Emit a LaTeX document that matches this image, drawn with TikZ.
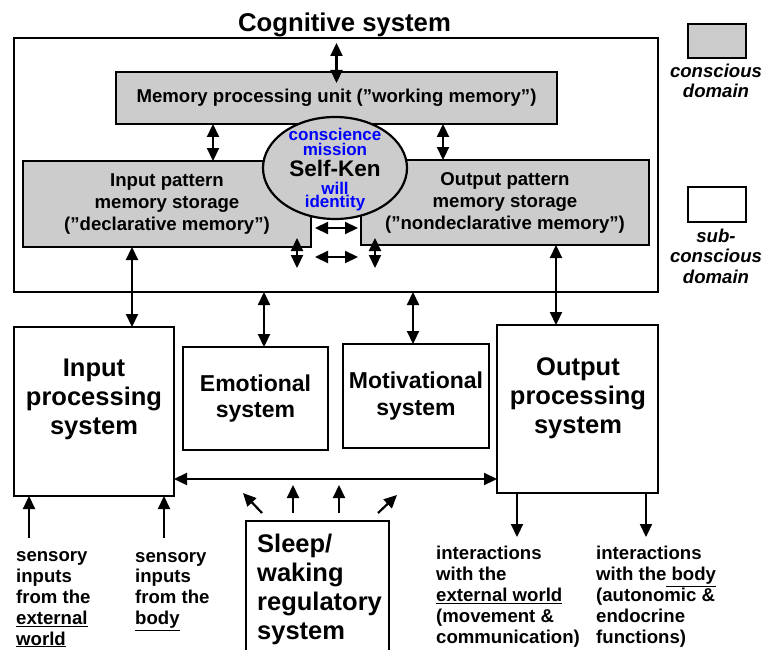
\documentclass[tikz,border=0pt]{standalone}
\usepackage{fontspec}
\setmainfont{Liberation Sans}
\usetikzlibrary{positioning, arrows.meta, calc, shapes.geometric}
\definecolor{consgray}{RGB}{204,204,204}
\tikzset{
	>={Triangle[length=13pt, width=12pt]},
	sysbox/.style={draw, line width=2.2pt, inner sep=0pt, outer sep=0pt, anchor=north west},
	consbox/.style={sysbox, fill=consgray},
	link/.style={line width=2.2pt},
	titletext/.style={font=\fontsize{25.7}{29}\selectfont\bfseries, inner sep=0pt},
	bigtext/.style={font=\fontsize{25.5}{29}\selectfont\bfseries, align=center, inner sep=0pt},
	midtext/.style={font=\fontsize{23}{26.5}\selectfont\bfseries, align=center},
	memtext/.style={font=\fontsize{18.6}{22}\selectfont\bfseries, align=center},
	smalltext/.style={font=\fontsize{18.6}{20.8}\selectfont\bfseries, align=left, inner sep=0pt, anchor=base west},
	legtext/.style={font=\fontsize{18.6}{20.5}\selectfont\bfseries\itshape, align=center, inner sep=0pt, anchor=base},
	bluetext/.style={font=\fontsize{17}{15}\selectfont\bfseries, text=blue, align=center, inner sep=0pt, anchor=base},
}

\begin{document}
\begin{tikzpicture}[x=1pt, y=-1pt]
	\clip (0,0) rectangle (768,650);
	
	% cognitive system
	\node[titletext, anchor=base] (title) at (344.5,32) {Cognitive system};
	\node[sysbox, minimum width=644, minimum height=254] (cog) at (14,38) {};
	\node[consbox, memtext, minimum width=441, minimum height=52] (memunit) at (116,72) {Memory processing unit (”working memory”)};
	\node[consbox, memtext, minimum width=288, minimum height=86] (inpat) at (23,161) {Input pattern\\memory storage\\(”declarative memory”)};
	\node[consbox, memtext, minimum width=288, minimum height=85] (outpat) at (361,160) {Output pattern\\memory storage\\(”nondeclarative memory”)};
	\node[ellipse, draw, fill=consgray, line width=2.2pt, minimum width=144, minimum height=102, inner sep=0pt, font=\fontsize{22.5}{24}\selectfont\bfseries] (self) at (335,168) {Self-Ken};
	\node[bluetext] (selftop) at (335,155) {conscience\\mission};
	\node[bluetext, font=\fontsize{17}{12.5}\selectfont\bfseries] (selfbot) at (335,207) {will\\identity};
	
	% lower systems
	\node[sysbox, minimum width=160, minimum height=169] (inproc) at (14,327) {};
	\node[bigtext, anchor=base] (inproctxt) at (94,434) {Input\\processing\\system};
	\node[sysbox, midtext, minimum width=145, minimum height=103] (emo) at (183,347) {Emotional\\system};
	\node[sysbox, midtext, minimum width=146, minimum height=104] (moti) at (343,344) {Motivational\\system};
	\node[sysbox, minimum width=161, minimum height=168] (outproc) at (497,325) {};
	\node[bigtext, anchor=base] (outproctxt) at (578,433) {Output\\processing\\system};
	\node[sysbox, minimum width=143, minimum height=160] (sleep) at (246,521) {};
	\node[bigtext, align=left, anchor=base west] (sleeptxt) at (257,639) {Sleep/\\waking\\regulatory\\system};
	
	% inputs and outputs
	\node[smalltext] (sens1) at (16,645) {sensory\\inputs\\from the\\\underline{external}\\\underline{world}};
	\node[smalltext] (sens2) at (135,624.5) {sensory\\inputs\\from the\\\underline{body}};
	\node[smalltext] (inter1) at (436,643) {interactions\\with the\\\underline{external world}\\(movement \&\\communication)};
	\node[smalltext] (inter2) at (596,643) {interactions\\with the\underline{\ body}\\(autonomic \&\\endocrine\\functions)};
	\coordinate (sens1arr) at (29,538);
	\coordinate (sens2arr) at (164,538);
	\coordinate (inter1arr) at (517,537);
	\coordinate (inter2arr) at (646,537);
	
	% legend
	\node[consbox, minimum width=58, minimum height=34] (legcons) at (688,24) {};
	\node[legtext] (legconstxt) at (716,98) {conscious\\domain};
	\node[sysbox, minimum width=58, minimum height=35] (legsub) at (688,187) {};
	\node[legtext] (legsubtxt) at (716,283) {sub-\\conscious\\domain};
	
	% arrows inside the cognitive system
	\draw[link, <->] ($(memunit.north)+(0,-29)$) -- ($(memunit.north)+(0,11)$);
	\draw[link, <->] ([xshift=46pt]inpat.north |- memunit.south) -- ([xshift=46pt]inpat.north);
	\draw[link, <->] ([xshift=-62pt]outpat.north |- memunit.south) -- ([xshift=-62pt]outpat.north);
	\draw[link, <->] ($(inpat.south east)+(-14,-9)$) -- ($(inpat.south east)+(-14,21)$);
	\draw[link, <->] ($(outpat.south west)+(14,-7)$) -- ($(outpat.south west)+(14,23)$);
	\draw[link, <->] ($(inpat.south east)+(4,-19)$) -- ($(outpat.south west)+(-3,-17)$);
	\draw[link, <->] ($(inpat.south east)+(4,10)$) -- ($(outpat.south west)+(-3,12)$);
	
	% arrows between systems
	\draw[link, <->] ([xshift=-35pt]inpat.south) -- ([xshift=-35pt]inpat.south |- inproc.north);
	\draw[link, <->] ([xshift=51pt]outpat.south) -- ([xshift=51pt]outpat.south |- outproc.north);
	\draw[link, <->] ([xshift=8.5pt]emo.north |- cog.south) -- ([xshift=8.5pt]emo.north);
	\draw[link, <->] ([xshift=-3pt]moti.north |- cog.south) -- ([xshift=-3pt]moti.north);
	\draw[link, <->] ([yshift=-67.5pt]inproc.east) -- ([yshift=-67.5pt]inproc.east -| outproc.west);
	
	% sleep/waking
	\draw[link, ->] ($(sleep.north west)+(16,-8)$) -- ($(sleep.north west)+(-3,-28)$);
	\draw[link, ->] ($(sleep.north)+(-24.5,-8)$) -- ($(sleep.north)+(-24.5,-36)$);
	\draw[link, ->] ($(sleep.north)+(21.5,-8)$) -- ($(sleep.north)+(21.5,-36)$);
	\draw[link, ->] ($(sleep.north east)+(-11,-8)$) -- ($(sleep.north east)+(8,-26)$);
	
	% sensory inputs and interactions
	\draw[link, ->] (sens1arr) -- (sens1arr |- inproc.south);
	\draw[link, ->] (sens2arr) -- (sens2arr |- inproc.south);
	\draw[link, ->] (inter1arr |- outproc.south) -- (inter1arr);
	\draw[link, ->] (inter2arr |- outproc.south) -- (inter2arr);
	
\end{tikzpicture}
\end{document}
